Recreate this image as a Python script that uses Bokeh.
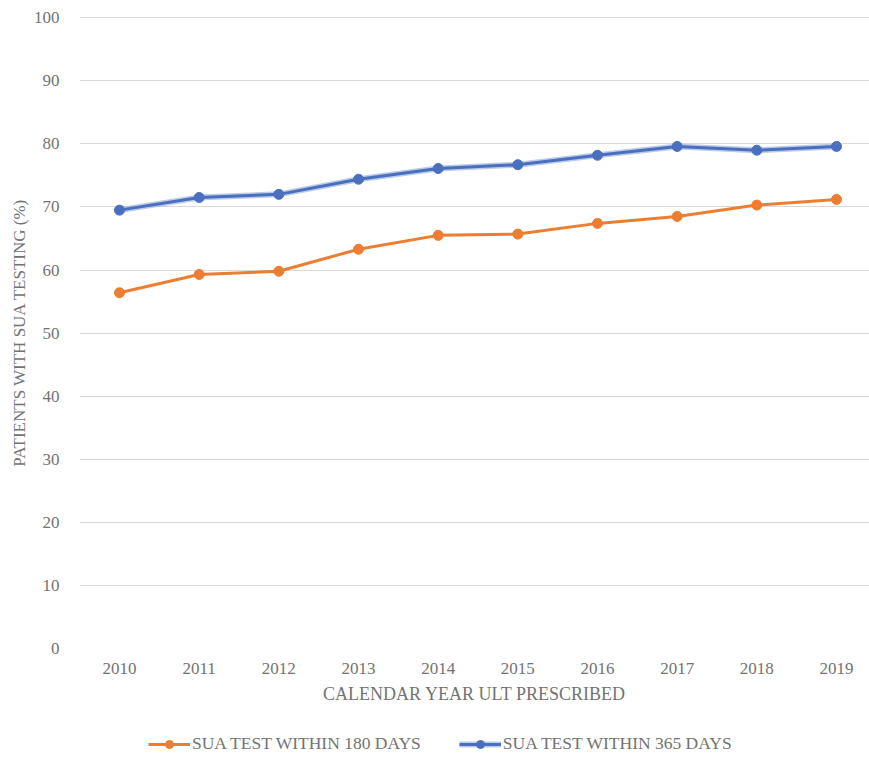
from bokeh.plotting import figure
from bokeh.layouts import column
from bokeh.models import Range1d, FixedTicker, Legend, LegendItem, ColumnDataSource
from bokeh.embed import file_html
from bokeh.resources import INLINE

years = ["2010", "2011", "2012", "2013", "2014", "2015", "2016", "2017", "2018", "2019"]
sua_180 = [56.4, 59.3, 59.8, 63.3, 65.5, 65.7, 67.4, 68.5, 70.3, 71.2]
sua_365 = [69.5, 71.5, 72.0, 74.4, 76.1, 76.7, 78.2, 79.6, 79.0, 79.6]
y_ticks = [0, 10, 20, 30, 40, 50, 60, 70, 80, 90, 100]
series_names = ["SUA TEST WITHIN 180 DAYS", "SUA TEST WITHIN 365 DAYS"]

FONT = "'Liberation Serif', 'Times New Roman', serif"
GRAY = "#737373"
ORANGE = "#ED7D31"
BLUE = "#4A6FBF"
BLUE_GLOW = "#8FA8DA"

xs = list(range(len(years)))
src = ColumnDataSource(dict(x=xs, a=sua_180, b=sua_365))


def draw_series(fig):
    r1l = fig.line("x", "a", source=src, line_color=ORANGE, line_width=3)
    r1m = fig.scatter("x", "a", source=src, size=10, fill_color=ORANGE, line_color=ORANGE)
    r2g = fig.line("x", "b", source=src, line_color=BLUE_GLOW, line_width=6, line_alpha=0.6)
    r2l = fig.line("x", "b", source=src, line_color=BLUE, line_width=3)
    r2m = fig.scatter("x", "b", source=src, size=10, fill_color=BLUE, line_color=BLUE)
    return [r1l, r1m], [r2g, r2l, r2m]


p = figure(width=869, height=720, output_backend="svg", toolbar_location=None,
           x_range=Range1d(-0.502, 9.414), y_range=Range1d(0, 100.2),
           min_border_left=79, min_border_right=0, min_border_top=16, min_border_bottom=72)
p.outline_line_color = None
draw_series(p)

p.xaxis.ticker = FixedTicker(ticks=xs)
p.xaxis.major_label_overrides = {i: y for i, y in enumerate(years)}
p.yaxis.ticker = FixedTicker(ticks=y_ticks)
p.xgrid.grid_line_color = None
p.ygrid.ticker = FixedTicker(ticks=y_ticks)
p.ygrid.grid_line_color = "#D9D9D9"
p.ygrid.grid_line_width = 1

for ax in (p.xaxis[0], p.yaxis[0]):
    ax.axis_line_color = None
    ax.major_tick_line_color = None
    ax.minor_tick_line_color = None
    ax.major_label_text_font = FONT
    ax.major_label_text_font_size = "17px"
    ax.major_label_text_color = GRAY
    ax.axis_label_text_font = FONT
    ax.axis_label_text_font_style = "normal"
    ax.axis_label_text_color = GRAY

p.xaxis.axis_label = "CALENDAR YEAR ULT PRESCRIBED"
p.xaxis.axis_label_text_font_size = "18px"
p.xaxis.major_label_standoff = 8
p.xaxis.axis_label_standoff = 7
p.yaxis.axis_label = "PATIENTS WITH SUA TESTING (%)"
p.yaxis.axis_label_text_font_size = "17px"
p.yaxis.major_label_standoff = 14
p.yaxis.axis_label_standoff = 2

# legend strip below the chart (its frame is aligned with the main frame at x=79)
lg = figure(width=869, height=37, output_backend="svg", toolbar_location=None,
            x_range=Range1d(100, 101), y_range=Range1d(100, 101),
            x_axis_location=None, y_axis_location=None,
            min_border=0)
lg.grid.visible = False
lg.outline_line_color = None
s1, s2 = draw_series(lg)
legend = Legend(items=[LegendItem(label=series_names[0], renderers=s1),
                       LegendItem(label=series_names[1], renderers=s2)],
                orientation="horizontal", location=(69, 3))
legend.label_text_font = FONT
legend.label_text_font_size = "17.5px"
legend.label_text_color = GRAY
legend.glyph_width = 42
legend.label_standoff = 2
legend.spacing = 38
legend.padding = 0
legend.margin = 0
legend.border_line_color = None
legend.background_fill_alpha = 0
lg.add_layout(legend)

open("out.html", "w").write(file_html(column(p, lg, spacing=0), INLINE))
